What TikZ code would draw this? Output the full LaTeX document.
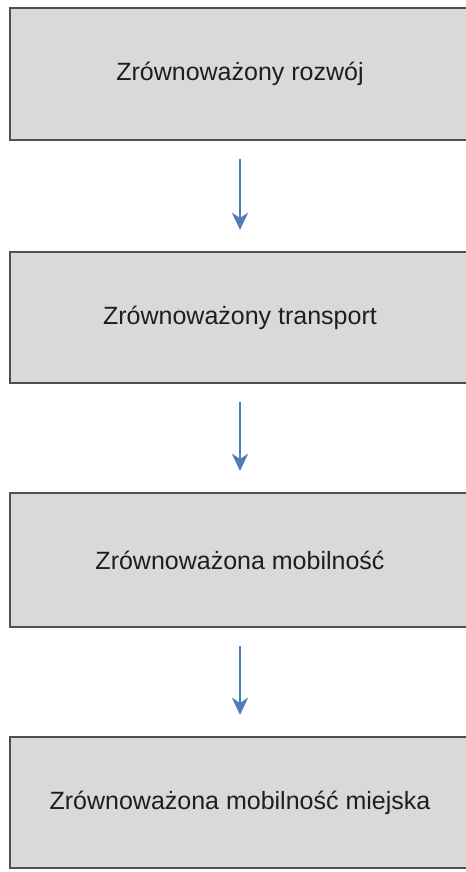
\documentclass[tikz,border=0pt]{standalone}
\usepackage{fontspec}
\setmainfont{Liberation Sans}
\usetikzlibrary{arrows.meta}
\definecolor{boxfill}{HTML}{D9D9D9}
\definecolor{boxline}{HTML}{47515C}
\definecolor{arrowblue}{HTML}{4F7DB5}
\definecolor{txt}{HTML}{1E1E1E}
\tikzset{
  stagebox/.style={draw=boxline, line width=2.2bp, fill=boxfill, rectangle,
    minimum width=460bp, inner sep=0pt, text=txt,
    font=\fontsize{25bp}{30bp}\selectfont},
  flowarrow/.style={draw=arrowblue, line width=2.8bp,
    -{Stealth[length=17bp,width=16bp,inset=5bp]},
    shorten <=18bp, shorten >=21bp}
}
\begin{document}
\begin{tikzpicture}[x=1bp,y=-1bp]
\useasboundingbox (0,0) rectangle (466,872);
\fill[white] (0,0) rectangle (466,872);
\node[stagebox, minimum height=132bp] (b1) at (240,74) {Zrównoważony rozwój};
\node[stagebox, minimum height=131bp] (b2) at (240,317.5) {Zrównoważony transport};
\node[stagebox, minimum height=134bp] (b3) at (240,560) {Zrównoważona mobilność};
\node[stagebox, minimum height=131bp] (b4) at (240,802.5) {Zrównoważona mobilność miejska};
\draw[flowarrow] (b1.south) -- (b2.north);
\draw[flowarrow] (b2.south) -- (b3.north);
\draw[flowarrow] (b3.south) -- (b4.north);
\end{tikzpicture}
\end{document}
